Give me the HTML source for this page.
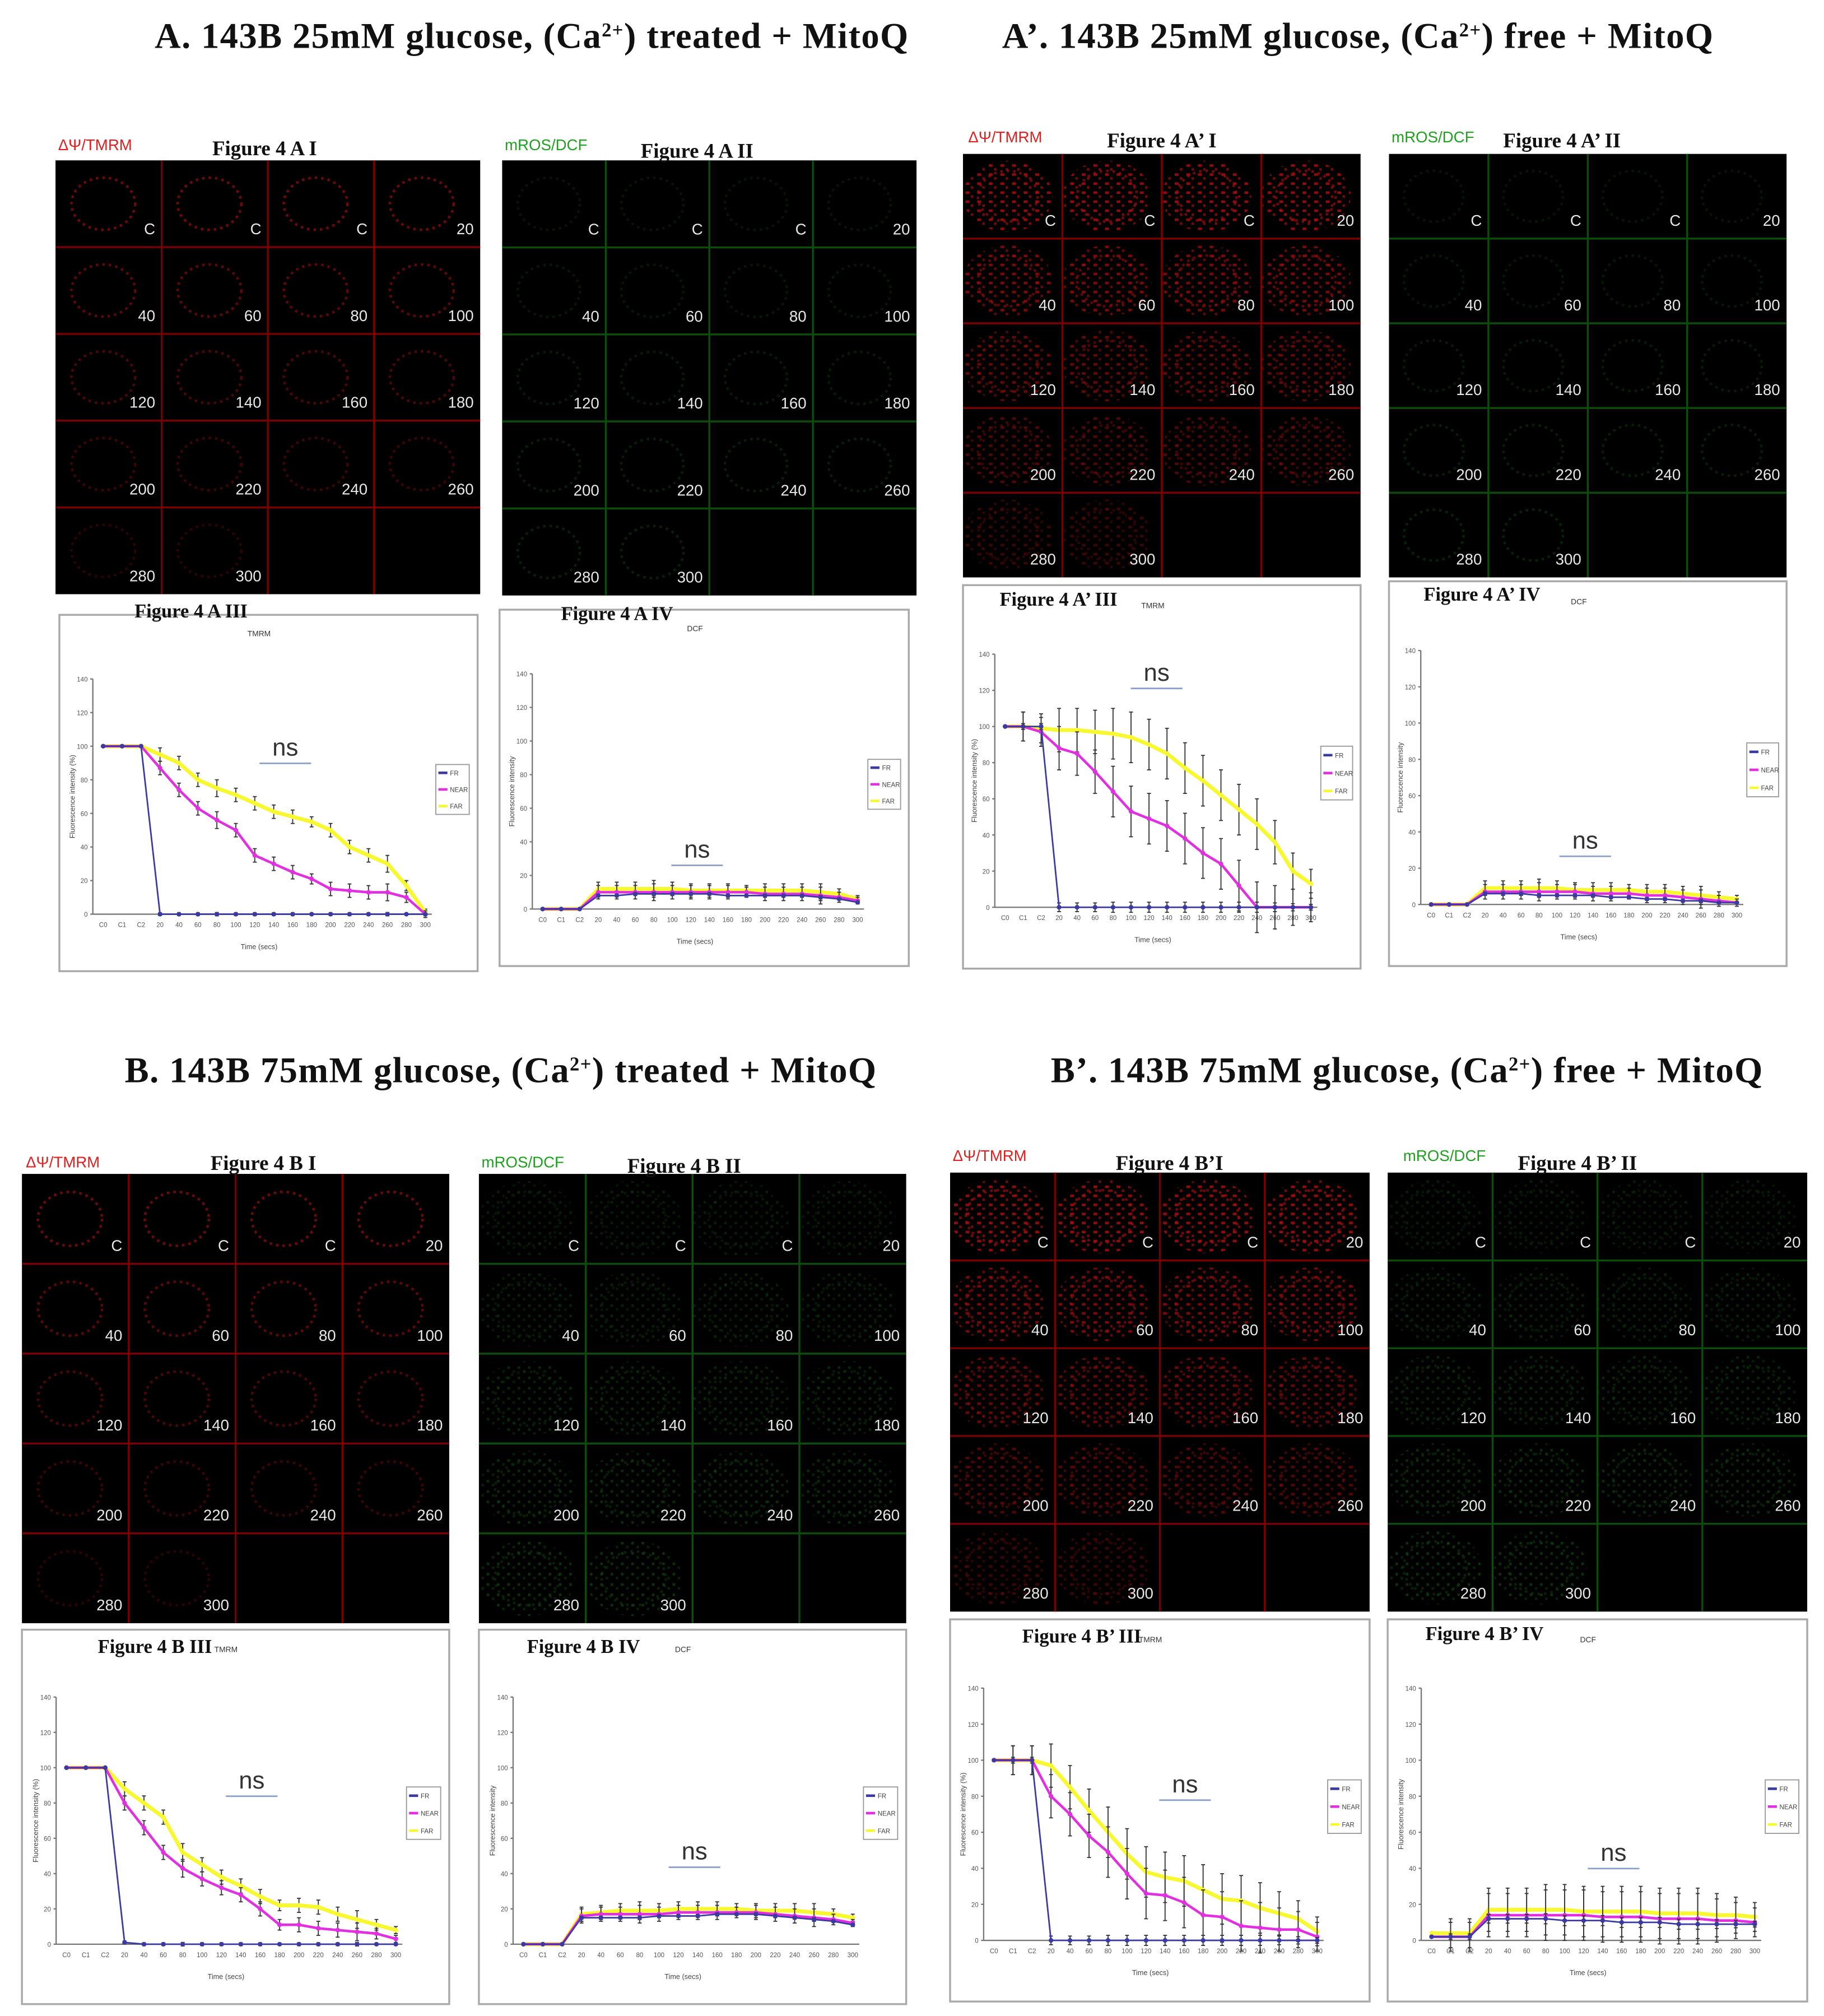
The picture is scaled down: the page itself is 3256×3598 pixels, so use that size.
<!DOCTYPE html>
<html><head><meta charset="utf-8"><style>
html,body{margin:0;padding:0;background:#fff}
svg{display:block}
</style></head><body>
<svg id="fig" xmlns="http://www.w3.org/2000/svg" width="3256" height="3598" viewBox="0 0 1413 1561">
<defs>
<pattern id="redDots" width="9" height="7" patternUnits="userSpaceOnUse"><rect x="1" y="1" width="3" height="2" fill="#c01010"/><rect x="5" y="4" width="2" height="2" fill="#901010"/></pattern>
<pattern id="grnDots" width="8" height="8" patternUnits="userSpaceOnUse"><rect x="1" y="2" width="2" height="2" fill="#1a6a1a"/><rect x="5" y="5" width="2" height="2" fill="#104a10"/></pattern>
</defs>
<rect width="1413" height="1561" fill="#fff"/>
<g font-family="Liberation Serif, serif" font-weight="bold" font-size="28" fill="#111" letter-spacing="0.6">
<text x="412" y="37" text-anchor="middle">A. 143B 25mM glucose, (Ca<tspan font-size="15" dy="-9">2+</tspan><tspan dy="9">) treated + MitoQ</tspan></text>
<text x="1052" y="37" text-anchor="middle">A’. 143B 25mM glucose, (Ca<tspan font-size="15" dy="-9">2+</tspan><tspan dy="9">) free + MitoQ</tspan></text>
<text x="388" y="838" text-anchor="middle">B. 143B 75mM glucose, (Ca<tspan font-size="15" dy="-9">2+</tspan><tspan dy="9">) treated + MitoQ</tspan></text>
<text x="1090" y="838" text-anchor="middle">B’.    143B 75mM glucose, (Ca<tspan font-size="15" dy="-9">2+</tspan><tspan dy="9">) free + MitoQ</tspan></text>
</g>
<g id="panels"></g>
<g id="charts"></g>
</svg>
<script>
const NS='http://www.w3.org/2000/svg';
const categories=['C0','C1','C2','20','40','60','80','100','120','140','160','180','200','220','240','260','280','300'];
const yTicks=[0,20,40,60,80,100,120,140];
const seriesNames=['FR','NEAR','FAR'];
const cellLabels=['C','C','C','20','40','60','80','100','120','140','160','180','200','220','240','260','280','300'];

const aIII_FR=[100,100,100,0,0,0,0,0,0,0,0,0,0,0,0,0,0,0];
const aIII_NEAR=[100,100,100,87,74,63,56,50,35,30,25,21,15,14,13,13,10,0];
const aIII_FAR=[100,100,100,95,90,80,75,71,66,61,58,55,50,40,35,30,17,1];
const aIV_FR=[0,0,0,8,8,9,9,9,9,9,8,8,8,8,8,7,6,4];
const aIV_NEAR=[0,0,0,10,10,10,10,10,10,10,10,10,9,9,9,8,7,5];
const aIV_FAR=[0,0,0,12,12,12,12,12,11,11,11,11,11,11,11,10,9,6];
const apIII_FR=[100,100,100,0,0,0,0,0,0,0,0,0,0,0,0,0,0,0];
const apIII_NEAR=[100,100,97,88,85,75,64,53,49,45,38,30,24,12,0,0,0,0];
const apIII_FAR=[100,100,99,98,98,97,96,94,90,85,77,70,62,54,46,36,20,13];
const apIV_FR=[0,0,0,6,6,6,5,5,5,5,4,4,3,3,2,2,1,1];
const apIV_NEAR=[0,0,0,7,7,7,7,7,7,6,6,6,5,5,4,3,2,1];
const apIV_FAR=[0,0,0,9,9,9,9,9,8,8,8,8,7,7,6,5,4,3];
const bIII_FR=[100,100,100,1,0,0,0,0,0,0,0,0,0,0,0,0,0,0];
const bIII_NEAR=[100,100,100,80,66,52,43,37,32,28,20,11,11,9,8,7,6,3];
const bIII_FAR=[100,100,100,88,80,72,52,45,38,33,27,22,22,21,17,14,11,8];
const bIV_FR=[0,0,0,15,15,15,15,16,16,16,17,17,17,16,15,14,13,11];
const bIV_NEAR=[0,0,0,16,17,17,17,17,18,18,18,18,18,17,16,15,14,12];
const bIV_FAR=[0,0,0,17,18,19,19,19,20,20,20,20,19,19,19,18,17,15];
const bpIII_FR=[100,100,100,0,0,0,0,0,0,0,0,0,0,0,0,0,0,0];
const bpIII_NEAR=[100,100,100,80,70,58,49,37,26,25,21,14,13,8,7,6,6,2];
const bpIII_FAR=[100,100,100,97,85,72,60,48,38,35,33,28,23,22,18,15,12,5];
const bpIV_FR=[2,2,2,12,12,12,12,11,11,11,10,10,10,9,9,9,9,9];
const bpIV_NEAR=[2,2,2,14,14,14,14,14,14,13,13,13,12,12,12,11,11,10];
const bpIV_FAR=[4,4,4,17,17,17,17,17,16,16,16,16,15,15,15,14,14,13];
const errSmall=[0,0,0,4,4,4,5,4,4,4,4,3,4,4,4,5,3,2];
const errLarge=[0,8,8,12,12,12,14,14,14,14,14,14,14,14,14,12,10,8];

function el(tag,attrs,parent){const e=document.createElementNS(NS,tag);for(const k in attrs)e.setAttribute(k,attrs[k]);parent.appendChild(e);return e;}
function txt(s,attrs,parent){const e=el('text',attrs,parent);e.textContent=s;return e;}

const panelsG=document.getElementById('panels');
const panels=[
 {id:'a-i',x:43,y:124,w:329,h:336,c:'red',b:false,lab:[45,116],t:'Figure 4 A I',tx:205,ty:120},
 {id:'a-ii',x:389,y:124,w:321,h:337,c:'green',b:false,lab:[391,116],t:'Figure 4 A II',tx:540,ty:122},
 {id:'a-prime-i',x:746,y:119,w:308,h:328,c:'red',b:true,lab:[750,110],t:'Figure 4 A’ I',tx:900,ty:114},
 {id:'a-prime-ii',x:1076,y:119,w:308,h:328,c:'green',b:false,lab:[1078,110],t:'Figure 4 A’ II',tx:1210,ty:114},
 {id:'b-i',x:17,y:909,w:331,h:348,c:'red',b:false,lab:[20,904],t:'Figure 4 B I',tx:204,ty:906},
 {id:'b-ii',x:371,y:909,w:331,h:348,c:'green',b:true,lab:[373,904],t:'Figure 4 B II',tx:530,ty:908},
 {id:'b-prime-i',x:736,y:908,w:325,h:340,c:'red',b:true,lab:[738,899],t:'Figure 4 B’I',tx:906,ty:906},
 {id:'b-prime-ii',x:1075,y:908,w:325,h:340,c:'green',b:true,lab:[1087,899],t:'Figure 4 B’ II',tx:1222,ty:906}
];
panels.forEach(p=>{
  const g=el('g',{},panelsG);
  
  
  const red=p.c==='red';
  el('rect',{x:p.x,y:p.y,width:p.w,height:p.h,fill:'#000'},g);
  const cw=p.w/4,ch=p.h/5;
  for(let r=0;r<5;r++)for(let c=0;c<4;c++){
    const cx=p.x+c*cw,cy=p.y+r*ch;
    if(r===4&&c>1)continue;
    const fade=red?(1-r*0.15):(0.5+r*0.08);
    if(p.b){el('ellipse',{cx:cx+cw*0.45,cy:cy+ch*0.5,rx:cw*0.45,ry:ch*0.42,fill:red?'url(#redDots)':'url(#grnDots)',opacity:fade*(red?0.75:0.55)},g);}
    el('ellipse',{cx:cx+cw*0.45,cy:cy+ch*0.5,rx:cw*0.3,ry:ch*0.3,fill:'none',stroke:red?'#b01010':'#1c5e1c','stroke-width':2,'stroke-dasharray':'2 3',opacity:fade*(red?0.6:0.4)},g);
  }
  const gc=red?'#7a0000':'#0c4d0c';
  for(let i=1;i<4;i++)el('line',{x1:p.x+i*cw,y1:p.y,x2:p.x+i*cw,y2:p.y+p.h,stroke:gc,'stroke-width':1.5},g);
  for(let i=1;i<5;i++)el('line',{x1:p.x,y1:p.y+i*ch,x2:p.x+p.w,y2:p.y+i*ch,stroke:gc,'stroke-width':1.5},g);
  cellLabels.forEach((s,i)=>{const r=Math.floor(i/4),c=i%4;
    txt(s,{x:p.x+(c+1)*cw-5,y:p.y+(r+1)*ch-10,'text-anchor':'end','font-family':'Liberation Sans Narrow, Liberation Sans, sans-serif','font-size':12,fill:'#e8e8e8'},g);});
  const lb=txt(red?'ΔΨ/TMRM':'mROS/DCF',{x:p.lab[0],y:p.lab[1],'font-family':'Liberation Sans Narrow, Liberation Sans, sans-serif','font-size':12,fill:red?'#e02020':'#20a020'},panelsG);
  
  
  const tt=txt(p.t,{x:p.tx,y:p.ty,'text-anchor':'middle','font-family':'Liberation Serif, serif','font-weight':'bold','font-size':16,fill:'#111'},panelsG);
  
  
});

const chartsG=document.getElementById('charts');
const charts=[
 {id:'a-iii',x:46,y:476,w:324,h:276,t:'Figure 4 A III',tx:148,ty:478,dye:'TMRM',s:[aIII_FR,aIII_NEAR,aIII_FAR],err:errSmall,ns:[221,585]},
 {id:'a-iv',x:387,y:472,w:317,h:276,t:'Figure 4 A IV',tx:478,ty:480,dye:'DCF',s:[aIV_FR,aIV_NEAR,aIV_FAR],err:errSmall,ns:[540,664]},
 {id:'a-prime-iii',x:746,y:453,w:308,h:297,t:'Figure 4 A’ III',tx:820,ty:469,dye:'TMRM',s:[apIII_FR,apIII_NEAR,apIII_FAR],err:errLarge,ns:[896,527]},
 {id:'a-prime-iv',x:1076,y:450,w:308,h:298,t:'Figure 4 A’ IV',tx:1148,ty:465,dye:'DCF',s:[apIV_FR,apIV_NEAR,apIV_FAR],err:errSmall,ns:[1228,657]},
 {id:'b-iii',x:17,y:1262,w:331,h:290,t:'Figure 4 B III',tx:120,ty:1280,dye:'TMRM',s:[bIII_FR,bIII_NEAR,bIII_FAR],err:errSmall,ns:[195,1385]},
 {id:'b-iv',x:371,y:1262,w:331,h:290,t:'Figure 4 B IV',tx:452,ty:1280,dye:'DCF',s:[bIV_FR,bIV_NEAR,bIV_FAR],err:errSmall,ns:[538,1440]},
 {id:'b-prime-iii',x:736,y:1254,w:325,h:296,t:'Figure 4 B’ III',tx:838,ty:1272,dye:'TMRM',s:[bpIII_FR,bpIII_NEAR,bpIII_FAR],err:errLarge,ns:[918,1388]},
 {id:'b-prime-iv',x:1075,y:1254,w:325,h:296,t:'Figure 4 B’ IV',tx:1150,ty:1270,dye:'DCF',s:[bpIV_FR,bpIV_NEAR,bpIV_FAR],err:errLarge,ns:[1250,1441]}
];
const colors=['#3a3aa0','#e030e0','#f8f830'];
charts.forEach(c=>{
  const g=el('g',{},chartsG);
  
  
  el('rect',{x:c.x,y:c.y,width:c.w,height:c.h,fill:'#fff',stroke:'#aaa','stroke-width':1.5},g);
  const L=c.x+c.w*0.08,R=c.x+c.w*0.875,T=c.y+c.h*0.18,B=c.y+c.h*0.84;
  const xs=i=>L+8+(R-L-8)*i/(categories.length-1);
  const ys=v=>B-(B-T)*v/140;
  el('line',{x1:L,y1:T,x2:L,y2:B,stroke:'#777','stroke-width':1},g);
  el('line',{x1:L,y1:B,x2:R+5,y2:B,stroke:'#777','stroke-width':1},g);
  yTicks.forEach(v=>{el('line',{x1:L-2,y1:ys(v),x2:L,y2:ys(v),stroke:'#777'},g);
    txt(String(v),{x:L-4,y:ys(v)+2,'text-anchor':'end','font-size':5,'font-family':'Liberation Sans, sans-serif',fill:'#555'},g);});
  categories.forEach((s,i)=>txt(s,{x:xs(i),y:B+10,'text-anchor':'middle','font-size':5,'font-family':'Liberation Sans, sans-serif',fill:'#555'},g));
  const yt=txt(c.dye==='TMRM'?'Fluorescence intensity (%)':'Fluorescence intensity',{transform:`translate(${L-14},${(T+B)/2}) rotate(-90)`,'text-anchor':'middle','font-size':5.5,'font-family':'Liberation Sans, sans-serif',fill:'#444'},g);
  
  
  const xt=txt('Time (secs)',{x:(L+R)/2,y:B+27,'text-anchor':'middle','font-size':5.5,'font-family':'Liberation Sans, sans-serif',fill:'#444'},g);
  
  
  txt(c.dye,{x:(L+R)/2,y:c.y+c.h*0.06,'text-anchor':'middle','font-size':6,'font-family':'Liberation Sans Narrow, sans-serif',fill:'#333'},g);
  const ft=txt(c.t,{x:c.tx,y:c.ty,'text-anchor':'middle','font-family':'Liberation Serif, serif','font-weight':'bold','font-size':15,fill:'#111'},chartsG);
  
  
  [2,1,0].forEach(si=>{
    const d=c.s[si];
    const sg=el('g',{},g);
    
    
    d.forEach((v,i)=>{const e=c.err[i]*(si===0?0.2:1);if(e>0){
      el('line',{x1:xs(i),y1:ys(v-e),x2:xs(i),y2:ys(v+e),stroke:'#333','stroke-width':0.8},sg);
      el('line',{x1:xs(i)-1.5,y1:ys(v+e),x2:xs(i)+1.5,y2:ys(v+e),stroke:'#333','stroke-width':0.8},sg);
      el('line',{x1:xs(i)-1.5,y1:ys(v-e),x2:xs(i)+1.5,y2:ys(v-e),stroke:'#333','stroke-width':0.8},sg);}});
    el('polyline',{points:d.map((v,i)=>xs(i)+','+ys(v)).join(' '),fill:'none',stroke:colors[si],'stroke-width':si===2?3:(si===0?1.2:2)},sg);
    d.forEach((v,i)=>el('circle',{cx:xs(i),cy:ys(v),r:1.8,fill:colors[si]},sg));
  });
  const lx=c.x+c.w*0.9,ly=c.y+c.h*0.42,lw=c.w*0.08,lh=c.h*0.14;
  const lg=el('g',{},g);
  
  
  el('rect',{x:lx,y:ly,width:lw,height:lh,fill:'#fff',stroke:'#999','stroke-width':0.8},lg);
  seriesNames.forEach((n,i)=>{const yy=ly+lh*(i+0.5)/3;
    el('line',{x1:lx+2,y1:yy,x2:lx+9,y2:yy,stroke:colors[i],'stroke-width':2},lg);
    txt(n,{x:lx+11,y:yy+2,'font-size':5,'font-family':'Liberation Sans, sans-serif',fill:'#444'},lg);});
  const ns=txt('ns',{x:c.ns[0],y:c.ns[1],'text-anchor':'middle','font-size':19,'font-family':'Liberation Sans Narrow, Liberation Sans, sans-serif',fill:'#333'},g);
  
  
  el('line',{x1:c.ns[0]-20,y1:c.ns[1]+6,x2:c.ns[0]+20,y2:c.ns[1]+6,stroke:'#8aa0c8','stroke-width':1.2},g);
});
</script>
</body></html>
